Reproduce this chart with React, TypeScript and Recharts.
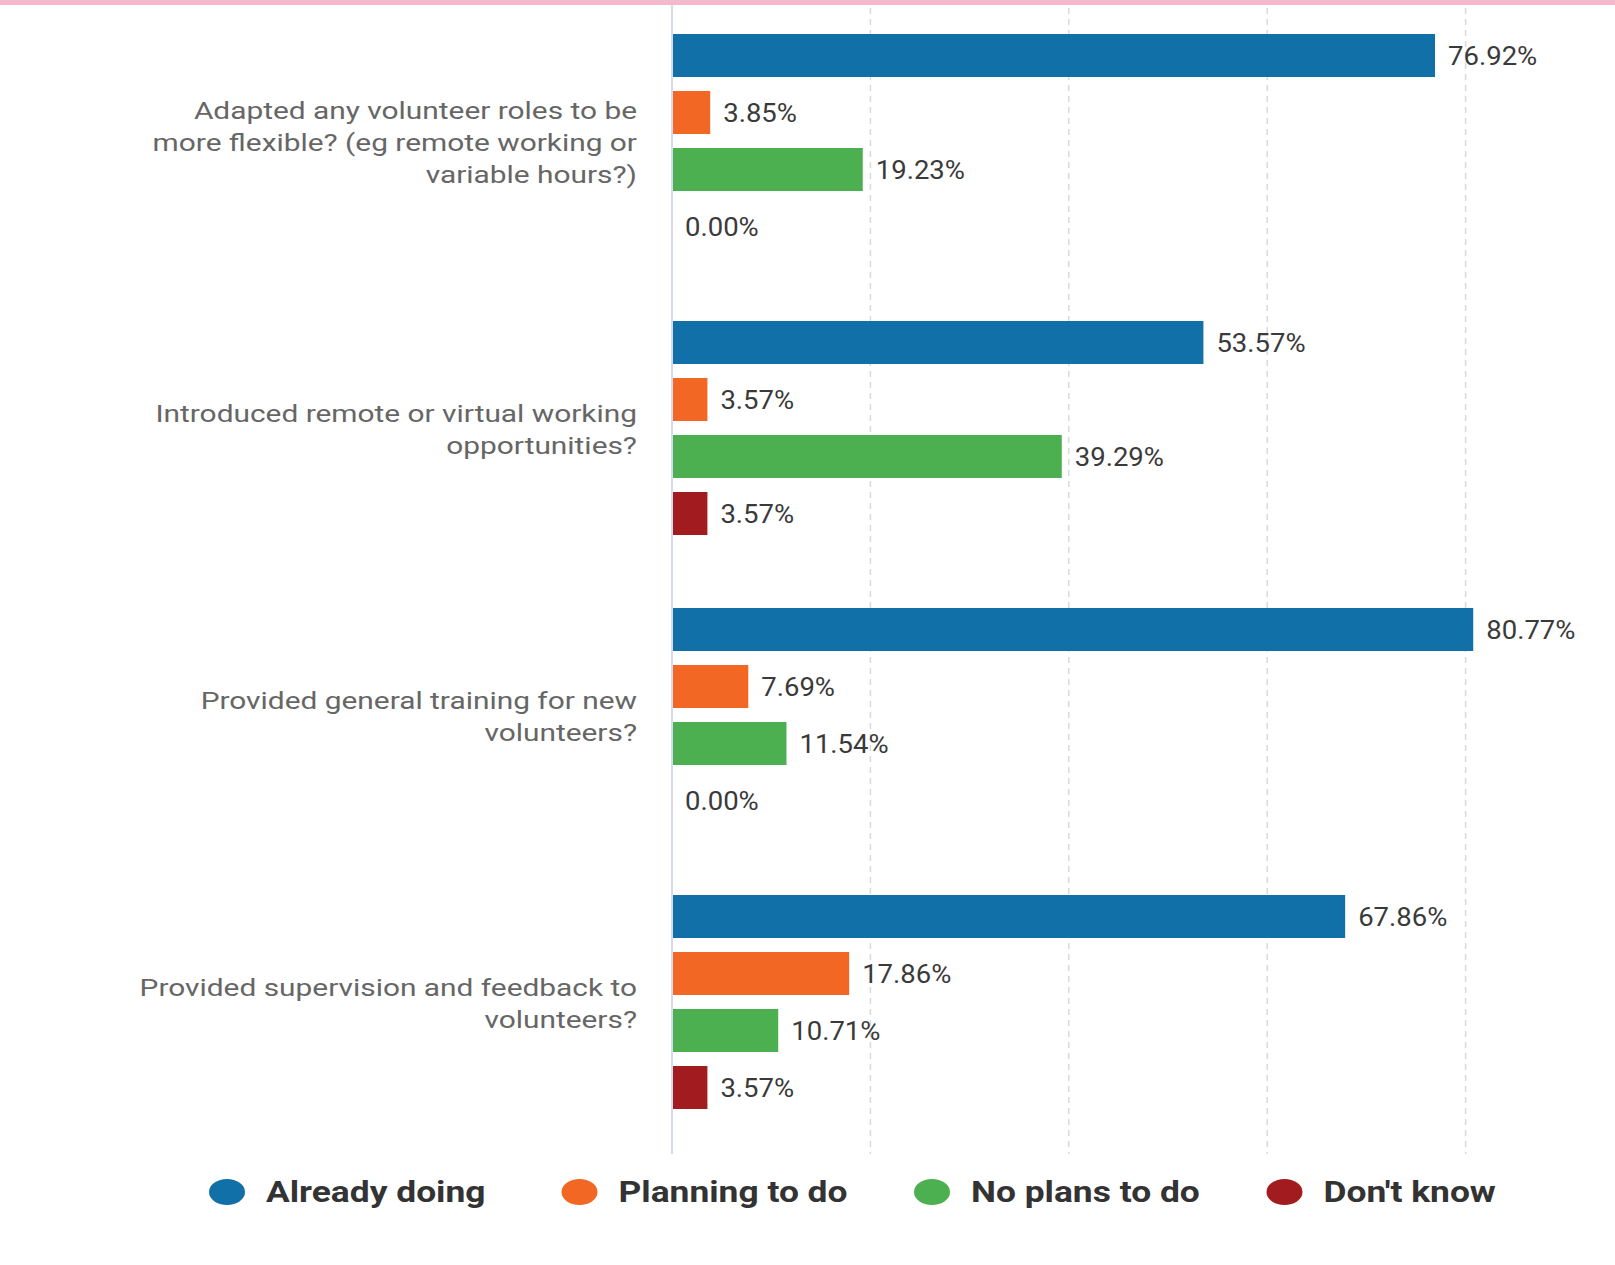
import React from "react";
import { BarChart, Bar, XAxis, YAxis, CartesianGrid, LabelList, Rectangle } from "recharts";

const CATEGORIES = [
  "Adapted any volunteer roles to be more flexible? (eg remote working or variable hours?)",
  "Introduced remote or virtual working opportunities?",
  "Provided general training for new volunteers?",
  "Provided supervision and feedback to volunteers?",
];

const CATEGORY_LINES: string[][] = [
  ["Adapted any volunteer roles to be", "more flexible? (eg remote working or", "variable hours?)"],
  ["Introduced remote or virtual working", "opportunities?"],
  ["Provided general training for new", "volunteers?"],
  ["Provided supervision and feedback to", "volunteers?"],
];

const ALREADY_DOING = [76.92, 53.57, 80.77, 67.86];
const PLANNING_TO_DO = [3.85, 3.57, 7.69, 17.86];
const NO_PLANS = [19.23, 39.29, 11.54, 10.71];
const DONT_KNOW = [0, 3.57, 0, 3.57];

const SERIES = [
  { key: "already", name: "Already doing", color: "#1270a8", values: ALREADY_DOING },
  { key: "planning", name: "Planning to do", color: "#f26724", values: PLANNING_TO_DO },
  { key: "noplans", name: "No plans to do", color: "#4caf50", values: NO_PLANS },
  { key: "dontknow", name: "Don't know", color: "#a21b1f", values: DONT_KNOW },
];

const X_TICKS = [0, 20, 40, 60, 80, 100];

const data = CATEGORIES.map((name, i) => {
  const row: Record<string, any> = { name };
  SERIES.forEach((s) => {
    row[s.key] = s.values[i];
  });
  return row;
});

const FONT = "Roboto, 'Noto Sans', sans-serif";

const CategoryTick = (props: any) => {
  const { x, y, payload } = props;
  const idx = CATEGORIES.indexOf(payload.value);
  const lines = CATEGORY_LINES[idx] || [String(payload.value)];
  const lh = 32;
  const start = -((lines.length - 1) / 2) * lh + 3;
  return (
    <g transform={`translate(${x},${y})`}>
      <g transform="scale(1.245,1)">
        {lines.map((ln, i) => (
          <text
            key={i}
            x={0}
            y={start + i * lh}
            textAnchor="end"
            dominantBaseline="central"
            fontFamily={FONT}
            fontSize={24}
            fill="#666666"
          >
            {ln}
          </text>
        ))}
      </g>
    </g>
  );
};

const makeShape = (key: string) => (props: any) => {
  const v = props.payload ? props.payload[key] : props.value;
  if (!v) return <g />;
  return <Rectangle {...props} />;
};

const makeLabel = (key: string) => (props: any) => {
  const { x, y, width, height, value, index } = props;
  const raw = value !== undefined && value !== null ? value : data[index]?.[key];
  if (raw === undefined || raw === null) return null;
  const num = Number(Array.isArray(raw) ? raw[1] : raw);
  const w = num === 0 ? 0 : Number(width);
  const tx = Number(x) + w + 13;
  const ty = Number(y) + Number(height) / 2 + 1;
  return (
    <g transform={`translate(${tx},${ty})`}>
      <text
        transform="scale(1.1,1)"
        x={0}
        y={0}
        dominantBaseline="central"
        fontFamily={FONT}
        fontSize={25}
        fill="#3a3a3a"
      >
        {num.toFixed(2) + "%"}
      </text>
    </g>
  );
};

const LegendRow = () => (
  <svg width={1615} height={60} style={{ position: "absolute", left: 0, top: 1162 }}>
    {SERIES.map((s, i) => {
      const cx = 227 + i * 352.5;
      return (
        <g key={s.key}>
          <ellipse cx={cx} cy={30} rx={18} ry={13} fill={s.color} />
          <g transform={`translate(${cx + 39},${30})`}>
            <text
              transform="scale(1.22,1)"
              x={0}
              y={0}
              dominantBaseline="central"
              fontFamily={FONT}
              fontWeight={700}
              fontSize={29}
              fill="#333333"
            >
              {s.name}
            </text>
          </g>
        </g>
      );
    })}
  </svg>
);

export default function App() {
  return (
    <div
      style={{
        position: "absolute",
        left: 0,
        top: 0,
        width: 1615,
        height: 1265,
        overflow: "hidden",
        background: "#ffffff",
      }}
    >
      <div style={{ position: "absolute", left: 0, top: -20 }}>
        <BarChart
          width={1664}
          height={1175}
          data={data}
          layout="vertical"
          margin={{ top: 17, right: 0, bottom: 0, left: 0 }}
          barSize={43}
          barGap={14}
        >
          <CartesianGrid
            horizontal={false}
            vertical={true}
            verticalValues={X_TICKS}
            stroke="#d9d9d9"
            strokeWidth={1.5}
            strokeDasharray="6 5"
          />
          <XAxis
            type="number"
            domain={[0, 100]}
            ticks={X_TICKS}
            tick={() => <g />}
            axisLine={false}
            tickLine={false}
            height={1}
          />
          <YAxis
            type="category"
            dataKey="name"
            width={672}
            axisLine={{ stroke: "#d3dcef", strokeWidth: 2 }}
            tickLine={false}
            tickSize={0}
            tickMargin={35}
            padding={{ top: 0, bottom: 9 }}
            tick={<CategoryTick />}
            interval={0}
          />
          {SERIES.map((s) => (
            <Bar
              key={s.key}
              dataKey={s.key}
              name={s.name}
              fill={s.color}
              minPointSize={1}
              shape={makeShape(s.key)}
              isAnimationActive={false}
            >
              <LabelList dataKey={s.key} content={makeLabel(s.key)} />
            </Bar>
          ))}
        </BarChart>
      </div>
      <LegendRow />
      <div
        style={{
          position: "absolute",
          left: 0,
          top: 0,
          width: 1615,
          height: 5,
          background: "#f5b9ce",
        }}
      />
    </div>
  );
}
